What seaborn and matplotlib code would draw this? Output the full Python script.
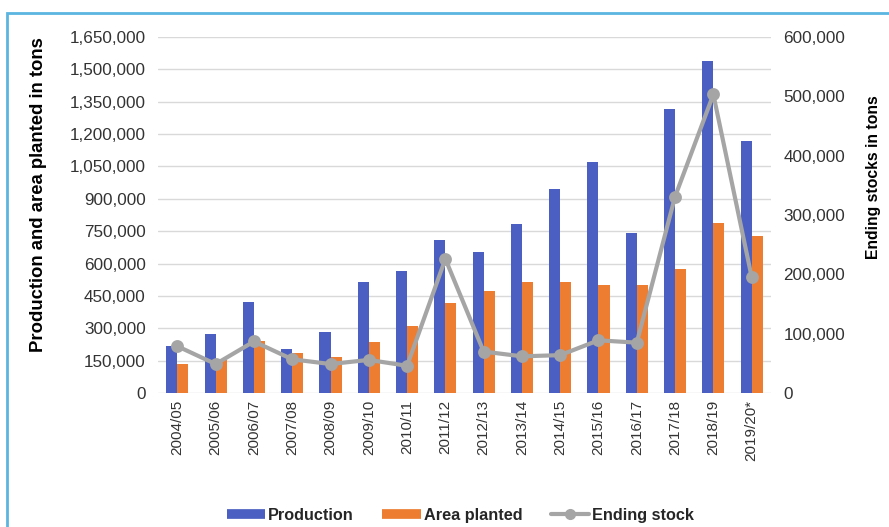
import matplotlib
matplotlib.use("Agg")
import matplotlib.pyplot as plt
import matplotlib.ticker as mticker
from matplotlib.lines import Line2D
from matplotlib.patches import Rectangle
import seaborn as sns
import pandas as pd

seasons = ["2004/05", "2005/06", "2006/07", "2007/08", "2008/09", "2009/10",
           "2010/11", "2011/12", "2012/13", "2013/14", "2014/15", "2015/16",
           "2016/17", "2017/18", "2018/19", "2019/20*"]
production = [218000, 273000, 422000, 204000, 283000, 514000, 565000, 709000,
              653000, 783000, 947000, 1069000, 742000, 1316000, 1540000, 1169000]
area_planted = [134000, 153000, 241000, 185000, 167000, 238000, 312000, 418000,
                473000, 516000, 516000, 500000, 500000, 573000, 787000, 729000]
ending_stock = [79000, 49000, 87000, 57000, 49000, 56000, 46000, 226000,
                70000, 62000, 64000, 89000, 85000, 331000, 503000, 196000]
left_ticks = list(range(0, 1650001, 150000))
right_ticks = list(range(0, 600001, 100000))

BLUE = "#4a5fc1"
ORANGE = "#ed7d31"
GRAY = "#a5a5a5"
TXT = "#333333"

sns.set_theme(style="white")
plt.rcParams["font.family"] = ["Liberation Sans", "DejaVu Sans"]

df = pd.DataFrame({
    "season": seasons * 2,
    "value": production + area_planted,
    "series": ["Production"] * len(seasons) + ["Area planted"] * len(seasons),
})

fig = plt.figure(figsize=(8.89, 5.27), dpi=100)
ax = fig.add_axes([0.178, 0.254, 0.689, 0.676])

sns.barplot(data=df, x="season", y="value", hue="series", order=seasons,
            hue_order=["Production", "Area planted"],
            palette=[BLUE, ORANGE], width=0.58, gap=0, ax=ax,
            saturation=1, legend=False, errorbar=None, linewidth=0)

ax.set_ylim(0, 1650000)
ax.set_yticks(left_ticks)
ax.yaxis.set_major_formatter(mticker.FuncFormatter(lambda v, p: f"{int(v):,}"))
ax.grid(axis="y", color="#d9d9d9", linewidth=1)
ax.set_axisbelow(True)
for s in ax.spines.values():
    s.set_visible(False)
ax.tick_params(axis="y", length=0, pad=9, labelsize=12.3, labelcolor=TXT)
ax.tick_params(axis="x", length=0, pad=5, labelsize=11, labelcolor=TXT, rotation=90)
ax.set_xlabel("")
ax.set_ylabel("Production and area planted in tons", fontsize=13.3,
              fontweight="bold", color="black")
ax.yaxis.set_label_coords(-0.181, 0.558)

ax2 = ax.twinx()
sns.pointplot(x=seasons, y=ending_stock, order=seasons, ax=ax2, color=GRAY,
              markers="o", markersize=7, linewidth=3)
ax2.set_ylim(0, 600000)
ax2.set_yticks(right_ticks)
ax2.yaxis.set_major_formatter(mticker.FuncFormatter(lambda v, p: f"{int(v):,}"))
ax2.grid(False)
for s in ax2.spines.values():
    s.set_visible(False)
ax2.tick_params(axis="y", length=0, pad=9, labelsize=12.3, labelcolor=TXT)
ax2.set_ylabel("Ending stocks in tons", fontsize=11.3, fontweight="bold",
               color="black")
ax2.yaxis.set_label_coords(1.155, 0.605)
ax.set_xlim(-0.5, len(seasons) - 0.5)
ax2.set_xlim(-0.5, len(seasons) - 0.5)

handles = [
    Line2D([0], [0], color=BLUE, lw=7, solid_capstyle="butt"),
    Line2D([0], [0], color=ORANGE, lw=7, solid_capstyle="butt"),
    Line2D([0], [0], color=GRAY, lw=3, marker="o", markersize=7),
]
fig.legend(handles, ["Production", "Area planted", "Ending stock"],
           loc="center", bbox_to_anchor=(0.518, 0.022), ncol=3, frameon=False,
           prop={"weight": "bold", "size": 11.7}, handlelength=2.35,
           columnspacing=1.75, handletextpad=0.2)

fig.patches.append(Rectangle((7 / 889, -0.1), 1.1, 1.1 - 13 / 527,
                             transform=fig.transFigure, fill=False,
                             edgecolor="#5bb5e0", linewidth=2))

fig.savefig("out.png", dpi=100)
